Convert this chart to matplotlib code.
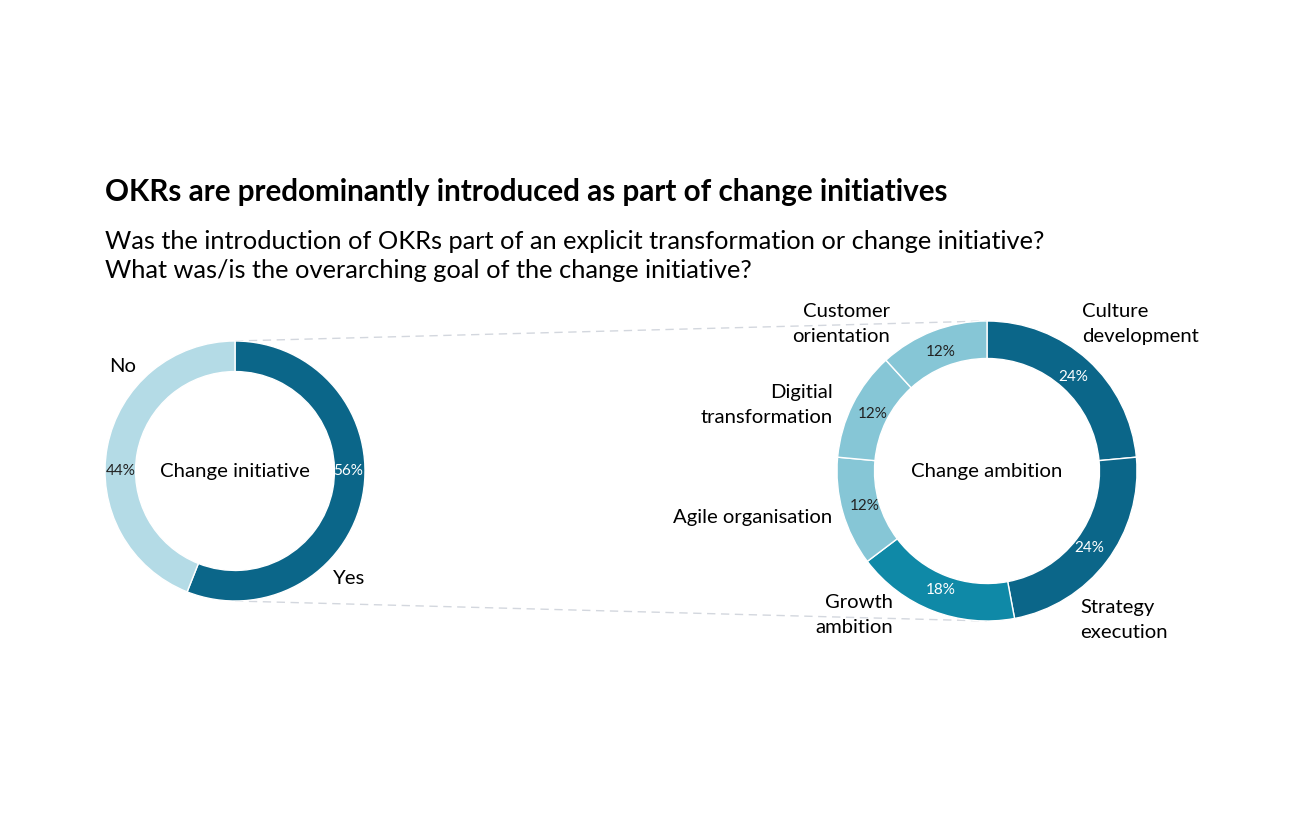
import matplotlib.pyplot as plt
import numpy as np

plt.rcParams['font.family'] = ['Lato', 'DejaVu Sans']

# data
init_labels = ['Yes', 'No']
init_values = [56, 44]
amb_labels = ['Culture\ndevelopment', 'Strategy\nexecution', 'Growth\nambition',
              'Agile organisation', 'Digitial\ntransformation', 'Customer\norientation']
amb_values = [24, 24, 18, 12, 12, 12]

title = 'OKRs are predominantly introduced as part of change initiatives'
subtitle = ('Was the introduction of OKRs part of an explicit transformation or change initiative?\n'
            'What was/is the overarching goal of the change initiative?')

dark = '#0b6689'
mid = '#0f89a7'
light = '#86c6d6'
pale = '#b4dbe6'

W, H = 1296, 826
fig = plt.figure(figsize=(W / 100, H / 100), dpi=100)
ax = fig.add_axes([0, 0, 1, 1])

def Y(y):
    return H - y

# left donut
c1 = (235, Y(471))
r1 = 130
ax.pie(init_values, colors=[dark, pale], startangle=90, counterclock=False,
       center=c1, radius=r1, frame=True,
       wedgeprops=dict(width=r1 * 0.235, edgecolor='white', linewidth=1))
ax.text(c1[0], c1[1], 'Change initiative', ha='center', va='center', fontsize=14.7)
ax.text(348, Y(471), '%d%%' % init_values[0], ha='center', va='center', fontsize=11, color='white')
ax.text(121, Y(471), '%d%%' % init_values[1], ha='center', va='center', fontsize=11, color='#222222')
ax.text(333, Y(578), init_labels[0], ha='left', va='center', fontsize=14.6)
ax.text(109, Y(366), init_labels[1], ha='left', va='center', fontsize=14.6)

# right donut
c2 = (987, Y(471))
r2 = 150
amb_colors = [dark, dark, mid, light, light, light]
wedges, _ = ax.pie(amb_values, colors=amb_colors, startangle=90, counterclock=False,
                   center=c2, radius=r2, frame=True,
                   wedgeprops=dict(width=r2 * 0.25, edgecolor='white', linewidth=1))
for w, v, col in zip(wedges, amb_values, amb_colors):
    ang = np.deg2rad((w.theta1 + w.theta2) / 2)
    x = c2[0] + 0.85 * r2 * np.cos(ang)
    y = c2[1] + 0.85 * r2 * np.sin(ang)
    tc = 'white' if col != light else '#222222'
    ax.text(x, y, '%d%%' % v, ha='center', va='center', fontsize=11, color=tc)
ax.text(c2[0], c2[1], 'Change ambition', ha='center', va='center', fontsize=14.7)

label_pos = [(1082, 324, 'left'), (1080, 620, 'left'), (893, 615, 'right'),
             (832, 518, 'right'), (833, 405, 'right'), (890, 324, 'right')]
for lab, (x, y, ha) in zip(amb_labels, label_pos):
    ax.text(x, Y(y), lab, ha=ha, va='center', fontsize=14.6, multialignment=ha,
            linespacing=1.6)

# connector lines
ax.plot([235, 987], [Y(341), Y(321)], color='#d3d7de', lw=1, ls=(0, (6, 4)), zorder=0)
ax.plot([235, 987], [Y(601), Y(621)], color='#d3d7de', lw=1, ls=(0, (6, 4)), zorder=0)

ax.set_xlim(0, W)
ax.set_ylim(0, H)
ax.set_aspect('equal')
ax.axis('off')

fig.text(105 / W, 1 - 192 / H, title, fontsize=21.3, fontweight='bold', va='center')
fig.text(105 / W, 1 - 256 / H, subtitle, fontsize=18.3, va='center', linespacing=1.3)

fig.savefig('out.png', dpi=100)
